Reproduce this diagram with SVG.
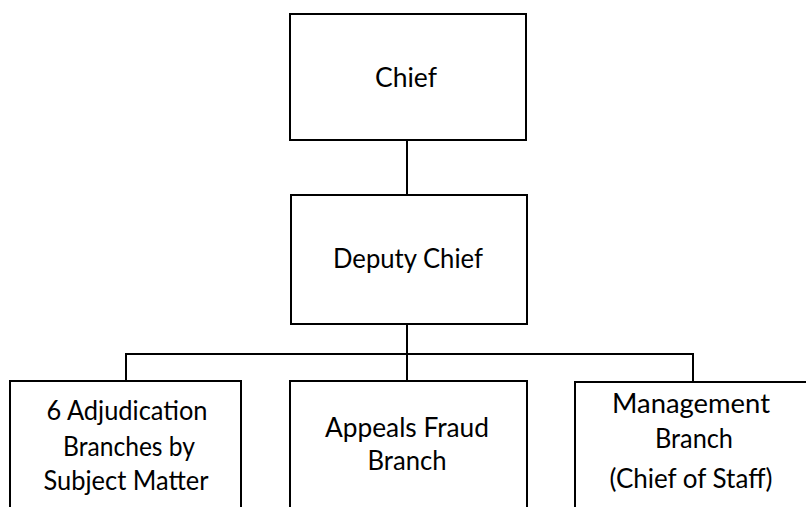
<svg xmlns="http://www.w3.org/2000/svg" width="806" height="507" viewBox="0 0 806 507">
  <style>
    .box { fill: #ffffff; stroke: #000000; stroke-width: 2; }
    .link { fill: none; stroke: #000000; stroke-width: 2; }
    .label { font-family: Lato, "Open Sans", "Liberation Sans", sans-serif; font-size: 27px; fill: #000000; text-anchor: middle; }
  </style>
  <rect width="806" height="507" fill="#ffffff"/>

  <!-- connectors -->
  <g id="connectors">
    <line class="link" x1="407" y1="140" x2="407" y2="195"/>
    <line class="link" x1="407" y1="324" x2="407" y2="381"/>
    <polyline class="link" points="126,381 126,354 693,354 693,382"/>
  </g>

  <g id="chief">
    <rect class="box" x="290" y="14" width="236" height="126"/>
    <text class="label" x="406" y="87" textLength="62" lengthAdjust="spacingAndGlyphs">Chief</text>
  </g>

  <g id="deputy-chief">
    <rect class="box" x="291" y="195" width="236" height="129"/>
    <text class="label" x="408" y="268" textLength="150" lengthAdjust="spacingAndGlyphs">Deputy Chief</text>
  </g>

  <g id="adjudication-branches">
    <rect class="box" x="10" y="381" width="231" height="140"/>
    <text class="label" x="127" y="420" textLength="161" lengthAdjust="spacingAndGlyphs">6 Adjudication</text>
    <text class="label" x="129" y="456" textLength="132" lengthAdjust="spacingAndGlyphs">Branches by</text>
    <text class="label" x="126" y="490" textLength="165" lengthAdjust="spacingAndGlyphs">Subject Matter</text>
  </g>

  <g id="appeals-fraud-branch">
    <rect class="box" x="290" y="381" width="237" height="140"/>
    <text class="label" x="407" y="437" textLength="164" lengthAdjust="spacingAndGlyphs">Appeals Fraud</text>
    <text class="label" x="407" y="470" textLength="79" lengthAdjust="spacingAndGlyphs">Branch</text>
  </g>

  <g id="management-branch">
    <rect class="box" x="575" y="382" width="236" height="140"/>
    <text class="label" x="691" y="413" textLength="158" lengthAdjust="spacingAndGlyphs">Management</text>
    <text class="label" x="694" y="448" textLength="78" lengthAdjust="spacingAndGlyphs">Branch</text>
    <text class="label" x="691" y="488" textLength="163" lengthAdjust="spacingAndGlyphs">(Chief of Staff)</text>
  </g>
</svg>
